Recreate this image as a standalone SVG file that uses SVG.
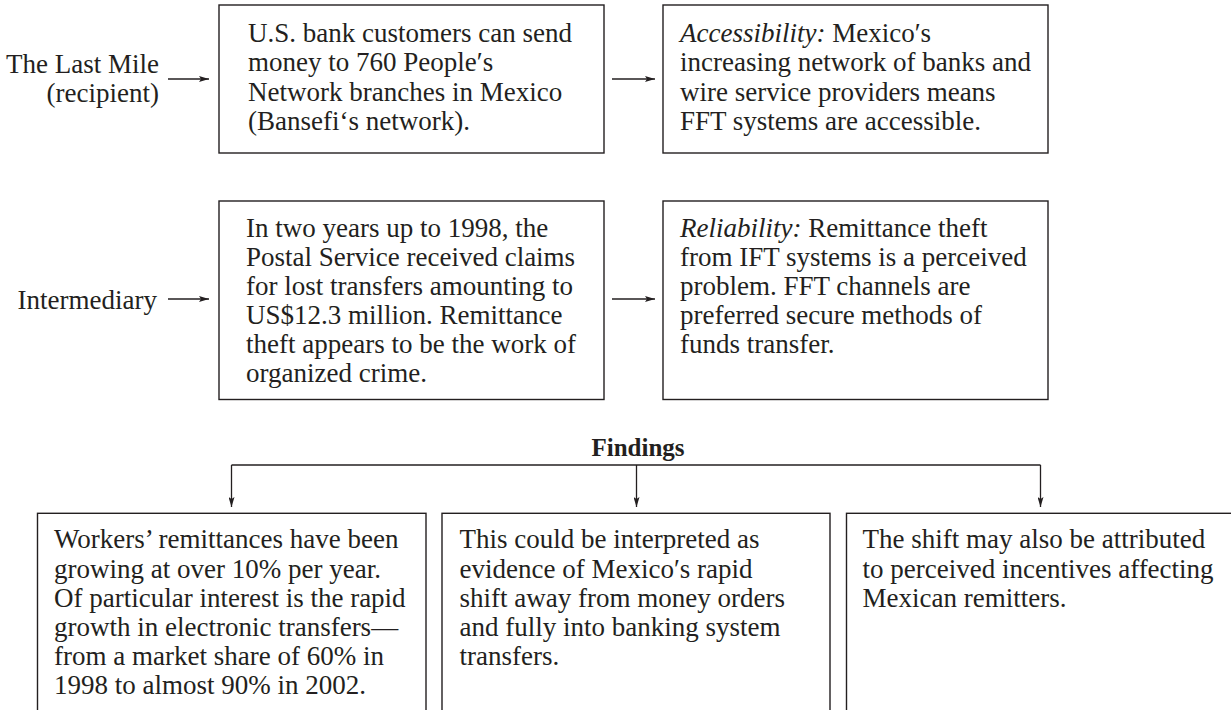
<svg xmlns="http://www.w3.org/2000/svg" width="1231" height="710" viewBox="0 0 1231 710">
  <style>
    .box { fill: #ffffff; stroke: #231f20; stroke-width: 1.4; }
    .t { font-family: "Liberation Serif", "Times New Roman", serif; font-size: 27px; fill: #231f20; }
    .lbl { font-family: "Liberation Serif", "Times New Roman", serif; font-size: 27px; fill: #231f20; text-anchor: end; }
    .hd { font-family: "Liberation Serif", "Times New Roman", serif; font-size: 25px; font-weight: bold; fill: #231f20; text-anchor: middle; }
    .it { font-style: italic; }
    .conn { stroke: #231f20; stroke-width: 1.3; fill: none; }
  </style>
  <defs>
    <marker id="ah" viewBox="0 0 10 6" refX="10" refY="3" markerWidth="10" markerHeight="6" markerUnits="userSpaceOnUse" orient="auto">
      <path d="M0,0 L10,3 L0,6 L2,3 z" fill="#231f20"/>
    </marker>
  </defs>
  <rect width="1231" height="710" fill="#ffffff"/>

  <g id="label-last-mile">
    <text class="lbl" x="159" y="73">The Last Mile</text>
    <text class="lbl" x="159" y="102">(recipient)</text>
  </g>
  <g id="label-intermediary">
    <text class="lbl" x="157" y="309">Intermediary</text>
  </g>

  <g id="box-bank-customers">
    <rect class="box" x="219" y="5" width="385" height="148"/>
    <text class="t" x="248" y="42">U.S. bank customers can send</text>
    <text class="t" x="248" y="71.3">money to 760 People′s</text>
    <text class="t" x="248" y="100.6">Network branches in Mexico</text>
    <text class="t" x="248" y="129.9">(Bansefi‘s network).</text>
  </g>

  <g id="box-accessibility">
    <rect class="box" x="663" y="5" width="385" height="148"/>
    <text class="t" x="680" y="42"><tspan class="it">Accessibility:</tspan> Mexico′s</text>
    <text class="t" x="680" y="71.3">increasing network of banks and</text>
    <text class="t" x="680" y="100.6">wire service providers means</text>
    <text class="t" x="680" y="129.9">FFT systems are accessible.</text>
  </g>

  <g id="box-postal">
    <rect class="box" x="219" y="201" width="385" height="198.5"/>
    <text class="t" x="246" y="237">In two years up to 1998, the</text>
    <text class="t" x="246" y="266">Postal Service received claims</text>
    <text class="t" x="246" y="295">for lost transfers amounting to</text>
    <text class="t" x="246" y="324">US$12.3 million. Remittance</text>
    <text class="t" x="246" y="353">theft appears to be the work of</text>
    <text class="t" x="246" y="382">organized crime.</text>
  </g>

  <g id="box-reliability">
    <rect class="box" x="663" y="201" width="385" height="198.5"/>
    <text class="t" x="680" y="237"><tspan class="it">Reliability:</tspan> Remittance theft</text>
    <text class="t" x="680" y="266">from IFT systems is a perceived</text>
    <text class="t" x="680" y="295">problem. FFT channels are</text>
    <text class="t" x="680" y="324">preferred secure methods of</text>
    <text class="t" x="680" y="353">funds transfer.</text>
  </g>

  <g id="label-findings">
    <text class="hd" x="638" y="456">Findings</text>
  </g>

  <g id="box-finding-1">
    <rect class="box" x="37.5" y="513.3" width="388.5" height="210"/>
    <text class="t" x="54" y="548.3">Workers’ remittances have been</text>
    <text class="t" x="54" y="577.5">growing at over 10% per year.</text>
    <text class="t" x="54" y="606.7">Of particular interest is the rapid</text>
    <text class="t" x="54" y="636">growth in electronic transfers—</text>
    <text class="t" x="54" y="665">from a market share of 60% in</text>
    <text class="t" x="54" y="694">1998 to almost 90% in 2002.</text>
  </g>

  <g id="box-finding-2">
    <rect class="box" x="442" y="513.3" width="388" height="210"/>
    <text class="t" x="459.5" y="548.3">This could be interpreted as</text>
    <text class="t" x="459.5" y="577.5">evidence of Mexico′s rapid</text>
    <text class="t" x="459.5" y="606.7">shift away from money orders</text>
    <text class="t" x="459.5" y="636">and fully into banking system</text>
    <text class="t" x="459.5" y="665">transfers.</text>
  </g>

  <g id="box-finding-3">
    <rect class="box" x="846.5" y="513.3" width="395" height="210"/>
    <text class="t" x="862.5" y="548.3">The shift may also be attributed</text>
    <text class="t" x="862.5" y="577.5">to perceived incentives affecting</text>
    <text class="t" x="862.5" y="606.7">Mexican remitters.</text>
  </g>

  <g id="connectors">
    <line class="conn" x1="168" y1="79" x2="209" y2="79" marker-end="url(#ah)"/>
    <line class="conn" x1="612" y1="79" x2="655" y2="79" marker-end="url(#ah)"/>
    <line class="conn" x1="168" y1="299" x2="209" y2="299" marker-end="url(#ah)"/>
    <line class="conn" x1="612" y1="299" x2="655" y2="299" marker-end="url(#ah)"/>
    <line class="conn" x1="231.5" y1="465" x2="1040.5" y2="465"/>
    <line class="conn" x1="231.5" y1="465" x2="231.5" y2="507" marker-end="url(#ah)"/>
    <line class="conn" x1="636.5" y1="465" x2="636.5" y2="507" marker-end="url(#ah)"/>
    <line class="conn" x1="1040.5" y1="465" x2="1040.5" y2="507" marker-end="url(#ah)"/>
  </g>
</svg>
